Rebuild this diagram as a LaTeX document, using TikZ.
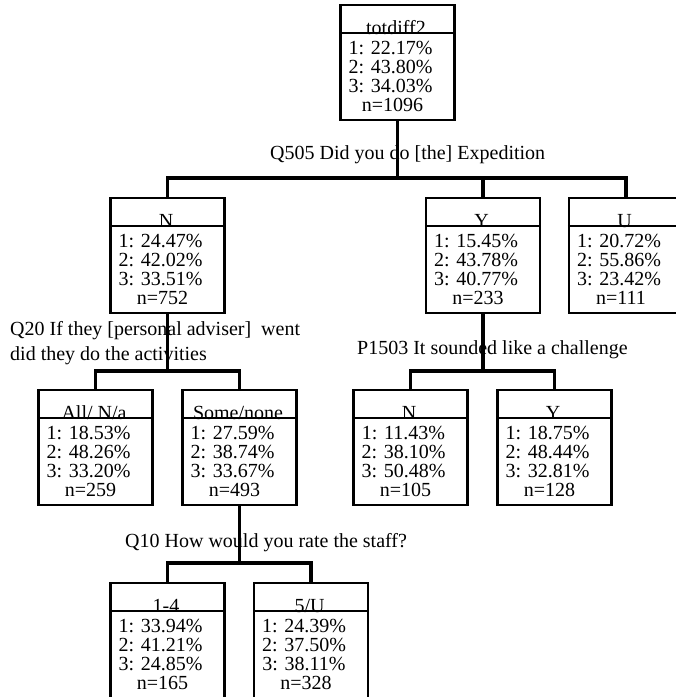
\documentclass[tikz,border=0pt]{standalone}
\usepackage{fontspec}
\setmainfont{Liberation Serif}
\begin{document}
\begin{tikzpicture}[x=1pt, y=-1pt,
  box/.style={draw, line width=2.3pt, minimum width=114pt, minimum height=115pt, inner sep=0pt, anchor=north},
  divline/.style={line width=2.3pt},
  conn/.style={line width=3.2pt, line join=miter},
  txt/.style={inner sep=0pt, anchor=base, font=\fontsize{20}{19}\selectfont},
  lbl/.style={inner sep=0pt, anchor=base west, align=left, font=\fontsize{20}{25}\selectfont}]
\useasboundingbox (0,0) rectangle (676,697);

% one tree node: name, centre x, top y, title, three class shares, count
\newcommand\treebox[8]{%
  \node[box] (#1) at (#2,#3) {};
  \node[txt] (#1-t) at ([xshift=-1.5pt, yshift=-30pt]#1.north) {#4};
  \draw[divline] ([yshift=-29pt]#1.north west) -- ([yshift=-29pt]#1.north east);
  \node[txt] (#1-a) at ([xshift=-7pt, yshift=-50pt]#1.north) {1: #5\%};
  \node[txt] (#1-b) at ([xshift=-7pt, yshift=-69pt]#1.north) {2: #6\%};
  \node[txt] (#1-c) at ([xshift=-7pt, yshift=-88pt]#1.north) {3: #7\%};
  \node[txt] (#1-n) at ([xshift=-5pt, yshift=-107pt]#1.north) {n=#8};
}

% level 0
\treebox{root}{397.5}{4}{totdiff2}{22.17}{43.80}{34.03}{1096}
% level 1
\treebox{expN}{167.5}{197}{N}{24.47}{42.02}{33.51}{752}
\treebox{expY}{483}{197}{Y}{15.45}{43.78}{40.77}{233}
\treebox{expU}{626}{197}{U}{20.72}{55.86}{23.42}{111}
% level 2
\treebox{advA}{95.5}{389}{All/ N/a}{18.53}{48.26}{33.20}{259}
\treebox{advS}{239.5}{389}{Some/none}{27.59}{38.74}{33.67}{493}
\treebox{chN}{410.5}{389}{N}{11.43}{38.10}{50.48}{105}
\treebox{chY}{554.5}{389}{Y}{18.75}{48.44}{32.81}{128}
% level 3
\treebox{stL}{167.5}{582}{1-4}{33.94}{41.21}{24.85}{165}
\treebox{stH}{311}{582}{5/U}{24.39}{37.50}{38.11}{328}

% split questions (a two-line label sits on its last baseline)
\node[lbl] (q505) at (270,159) {Q505 Did you do [the] Expedition};
\node[lbl] (q20) at (10,360) {Q20 If they [personal adviser]\ \ went\\did they do the activities};
\node[lbl] (p1503) at (357,354) {P1503 It sounded like a challenge};
\node[lbl] (q10) at (125,547) {Q10 How would you rate the staff?};

% branch levels
\coordinate (bar1) at (0,178);
\coordinate (bar2) at (0,371);
\coordinate (bar3) at (0,563);

\draw[conn] (root.south) -- (root.south |- bar1);
\draw[conn] (expN.north) -- (expN.north |- bar1) -- (expU.north |- bar1) -- (expU.north);
\draw[conn] (expY.north) -- (expY.north |- bar1);

\draw[conn] (expN.south) -- (expN.south |- bar2);
\draw[conn] (advA.north) -- (advA.north |- bar2) -- (advS.north |- bar2) -- (advS.north);

\draw[conn] (expY.south) -- (expY.south |- bar2);
\draw[conn] (chN.north) -- (chN.north |- bar2) -- (chY.north |- bar2) -- (chY.north);

\draw[conn] (advS.south) -- (advS.south |- bar3);
\draw[conn] (stL.north) -- (stL.north |- bar3) -- (stH.north |- bar3) -- (stH.north);
\end{tikzpicture}
\end{document}
